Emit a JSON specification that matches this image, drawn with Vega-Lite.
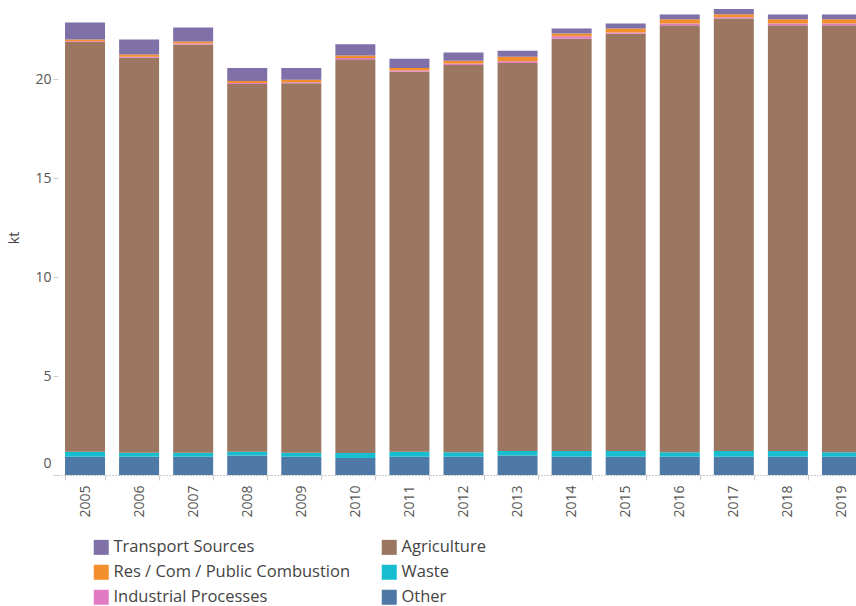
{
  "$schema": "https://vega.github.io/schema/vega-lite/v6.json",
  "autosize": "none",
  "width": 798,
  "height": 475,
  "padding": {"left": 58, "top": 0, "right": 0, "bottom": 131},
  "background": "white",
  "config": {
    "font": "Open Sans",
    "view": {"stroke": null}
  },
  "datasets": {
    "emissions": [
      {"year": "2005", "sector": "Other", "value": 0.92},
      {"year": "2005", "sector": "Waste", "value": 0.26},
      {"year": "2005", "sector": "Agriculture", "value": 20.70},
      {"year": "2005", "sector": "Industrial Processes", "value": 0.04},
      {"year": "2005", "sector": "Res / Com / Public Combustion", "value": 0.08},
      {"year": "2005", "sector": "Transport Sources", "value": 0.86},
      {"year": "2006", "sector": "Other", "value": 0.92},
      {"year": "2006", "sector": "Waste", "value": 0.21},
      {"year": "2006", "sector": "Agriculture", "value": 19.95},
      {"year": "2006", "sector": "Industrial Processes", "value": 0.05},
      {"year": "2006", "sector": "Res / Com / Public Combustion", "value": 0.12},
      {"year": "2006", "sector": "Transport Sources", "value": 0.75},
      {"year": "2007", "sector": "Other", "value": 0.92},
      {"year": "2007", "sector": "Waste", "value": 0.21},
      {"year": "2007", "sector": "Agriculture", "value": 20.62},
      {"year": "2007", "sector": "Industrial Processes", "value": 0.05},
      {"year": "2007", "sector": "Res / Com / Public Combustion", "value": 0.10},
      {"year": "2007", "sector": "Transport Sources", "value": 0.71},
      {"year": "2008", "sector": "Other", "value": 0.98},
      {"year": "2008", "sector": "Waste", "value": 0.20},
      {"year": "2008", "sector": "Agriculture", "value": 18.57},
      {"year": "2008", "sector": "Industrial Processes", "value": 0.06},
      {"year": "2008", "sector": "Res / Com / Public Combustion", "value": 0.10},
      {"year": "2008", "sector": "Transport Sources", "value": 0.66},
      {"year": "2009", "sector": "Other", "value": 0.92},
      {"year": "2009", "sector": "Waste", "value": 0.21},
      {"year": "2009", "sector": "Agriculture", "value": 18.66},
      {"year": "2009", "sector": "Industrial Processes", "value": 0.06},
      {"year": "2009", "sector": "Res / Com / Public Combustion", "value": 0.12},
      {"year": "2009", "sector": "Transport Sources", "value": 0.59},
      {"year": "2010", "sector": "Other", "value": 0.86},
      {"year": "2010", "sector": "Waste", "value": 0.25},
      {"year": "2010", "sector": "Agriculture", "value": 19.90},
      {"year": "2010", "sector": "Industrial Processes", "value": 0.06},
      {"year": "2010", "sector": "Res / Com / Public Combustion", "value": 0.13},
      {"year": "2010", "sector": "Transport Sources", "value": 0.57},
      {"year": "2011", "sector": "Other", "value": 0.92},
      {"year": "2011", "sector": "Waste", "value": 0.26},
      {"year": "2011", "sector": "Agriculture", "value": 19.19},
      {"year": "2011", "sector": "Industrial Processes", "value": 0.07},
      {"year": "2011", "sector": "Res / Com / Public Combustion", "value": 0.13},
      {"year": "2011", "sector": "Transport Sources", "value": 0.46},
      {"year": "2012", "sector": "Other", "value": 0.92},
      {"year": "2012", "sector": "Waste", "value": 0.23},
      {"year": "2012", "sector": "Agriculture", "value": 19.56},
      {"year": "2012", "sector": "Industrial Processes", "value": 0.08},
      {"year": "2012", "sector": "Res / Com / Public Combustion", "value": 0.14},
      {"year": "2012", "sector": "Transport Sources", "value": 0.42},
      {"year": "2013", "sector": "Other", "value": 0.98},
      {"year": "2013", "sector": "Waste", "value": 0.23},
      {"year": "2013", "sector": "Agriculture", "value": 19.61},
      {"year": "2013", "sector": "Industrial Processes", "value": 0.09},
      {"year": "2013", "sector": "Res / Com / Public Combustion", "value": 0.22},
      {"year": "2013", "sector": "Transport Sources", "value": 0.30},
      {"year": "2014", "sector": "Other", "value": 0.92},
      {"year": "2014", "sector": "Waste", "value": 0.29},
      {"year": "2014", "sector": "Agriculture", "value": 20.83},
      {"year": "2014", "sector": "Industrial Processes", "value": 0.13},
      {"year": "2014", "sector": "Res / Com / Public Combustion", "value": 0.14},
      {"year": "2014", "sector": "Transport Sources", "value": 0.25},
      {"year": "2015", "sector": "Other", "value": 0.92},
      {"year": "2015", "sector": "Waste", "value": 0.29},
      {"year": "2015", "sector": "Agriculture", "value": 21.08},
      {"year": "2015", "sector": "Industrial Processes", "value": 0.07},
      {"year": "2015", "sector": "Res / Com / Public Combustion", "value": 0.20},
      {"year": "2015", "sector": "Transport Sources", "value": 0.25},
      {"year": "2016", "sector": "Other", "value": 0.92},
      {"year": "2016", "sector": "Waste", "value": 0.23},
      {"year": "2016", "sector": "Agriculture", "value": 21.58},
      {"year": "2016", "sector": "Industrial Processes", "value": 0.08},
      {"year": "2016", "sector": "Res / Com / Public Combustion", "value": 0.22},
      {"year": "2016", "sector": "Transport Sources", "value": 0.24},
      {"year": "2017", "sector": "Other", "value": 0.92},
      {"year": "2017", "sector": "Waste", "value": 0.29},
      {"year": "2017", "sector": "Agriculture", "value": 21.85},
      {"year": "2017", "sector": "Industrial Processes", "value": 0.07},
      {"year": "2017", "sector": "Res / Com / Public Combustion", "value": 0.15},
      {"year": "2017", "sector": "Transport Sources", "value": 0.26},
      {"year": "2018", "sector": "Other", "value": 0.92},
      {"year": "2018", "sector": "Waste", "value": 0.29},
      {"year": "2018", "sector": "Agriculture", "value": 21.52},
      {"year": "2018", "sector": "Industrial Processes", "value": 0.08},
      {"year": "2018", "sector": "Res / Com / Public Combustion", "value": 0.22},
      {"year": "2018", "sector": "Transport Sources", "value": 0.24},
      {"year": "2019", "sector": "Other", "value": 0.92},
      {"year": "2019", "sector": "Waste", "value": 0.23},
      {"year": "2019", "sector": "Agriculture", "value": 21.58},
      {"year": "2019", "sector": "Industrial Processes", "value": 0.08},
      {"year": "2019", "sector": "Res / Com / Public Combustion", "value": 0.22},
      {"year": "2019", "sector": "Transport Sources", "value": 0.24}
    ],
    "stackOrder": [
      {"sector": "Other", "rank": 1},
      {"sector": "Waste", "rank": 2},
      {"sector": "Agriculture", "rank": 3},
      {"sector": "Industrial Processes", "rank": 4},
      {"sector": "Res / Com / Public Combustion", "rank": 5},
      {"sector": "Transport Sources", "rank": 6}
    ]
  },
  "data": {"name": "emissions"},
  "transform": [
    {"lookup": "sector", "from": {"data": {"name": "stackOrder"}, "key": "sector", "fields": ["rank"]}}
  ],
  "mark": {"type": "bar"},
  "encoding": {
    "x": {
      "field": "year",
      "type": "ordinal",
      "scale": {"range": [0, 811], "paddingInner": 0.26, "paddingOuter": 0.13},
      "axis": {
        "title": null,
        "labelAngle": -90,
        "labelAlign": "right",
        "labelBaseline": "middle",
        "labelFontSize": 14,
        "labelColor": "#555555",
        "labelPadding": 5,
        "tickBand": "extent",
        "tickSize": 5,
        "tickColor": "#cccccc",
        "domainColor": "#999999",
        "domainDash": [1, 2],
        "domainWidth": 1
      }
    },
    "y": {
      "field": "value",
      "type": "quantitative",
      "aggregate": "sum",
      "stack": "zero",
      "scale": {"domain": [0, 24], "nice": false},
      "axis": {
        "title": "kt",
        "titleFontSize": 14,
        "titleFontWeight": "normal",
        "titleColor": "#444444",
        "titlePadding": 13,
        "values": [0, 5, 10, 15, 20],
        "labelFontSize": 14,
        "labelColor": "#555555",
        "labelOffset": {"condition": {"test": "datum.value === 0", "value": -12}, "value": 0},
        "tickSize": 5,
        "tickColor": "#cccccc",
        "labelPadding": 2,
        "domain": false,
        "grid": false
      }
    },
    "order": {"field": "rank", "type": "quantitative", "sort": "ascending"},
    "color": {
      "field": "sector",
      "type": "nominal",
      "scale": {
        "domain": ["Transport Sources", "Res / Com / Public Combustion", "Industrial Processes", "Agriculture", "Waste", "Other"],
        "range": ["#7f70a8", "#f28e2b", "#e17cc4", "#9b7660", "#17becf", "#4e79a7"]
      },
      "legend": {
        "title": null,
        "orient": "none",
        "legendX": 35,
        "legendY": 539,
        "columns": 2,
        "columnPadding": 30,
        "rowPadding": 8,
        "padding": 0,
        "symbolType": "square",
        "symbolSize": 225,
        "symbolStrokeWidth": 0,
        "symbolOpacity": 1,
        "labelFontSize": 16.5,
        "labelColor": "#444444",
        "labelOffset": 4,
        "labelLimit": 400
      }
    }
  }
}
